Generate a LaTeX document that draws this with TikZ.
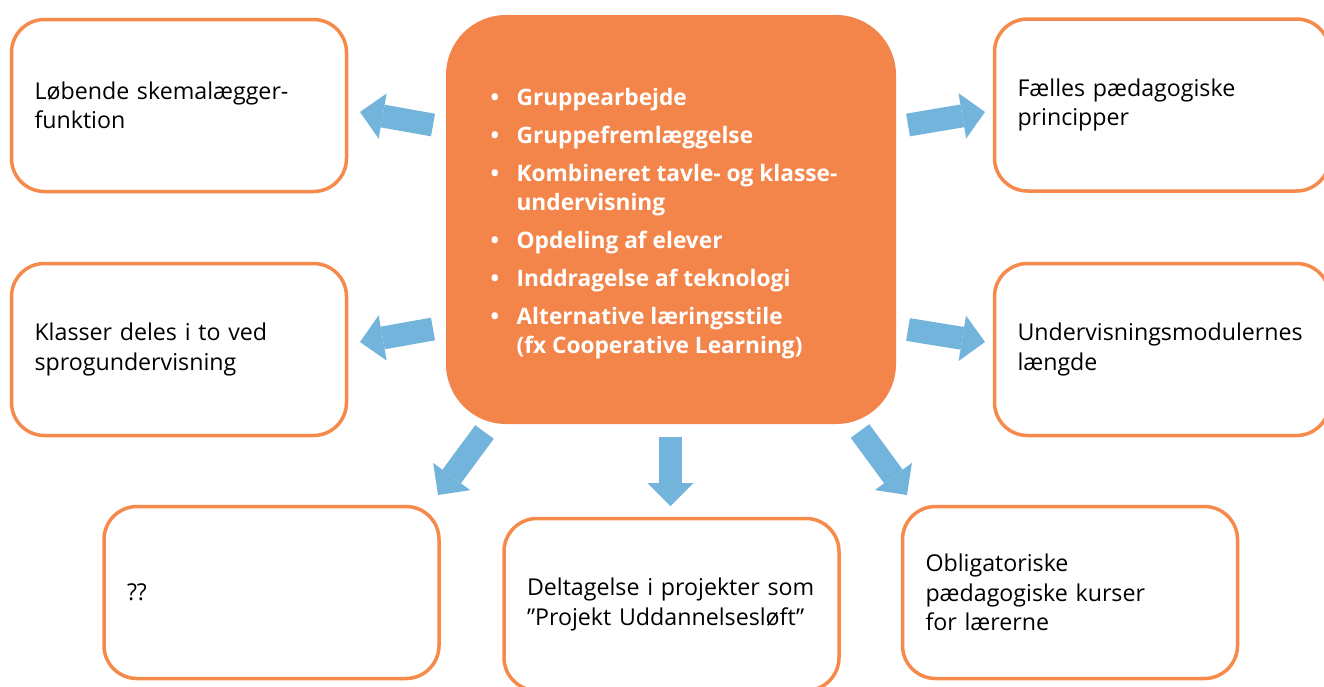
\documentclass[tikz,border=0pt]{standalone}
\usepackage{fontspec}
\setmainfont{Open Sans}
\usetikzlibrary{arrows.meta}
\definecolor{boxorange}{HTML}{F58A4B}
\definecolor{centerorange}{HTML}{F3844A}
\definecolor{arrowblue}{HTML}{72B4DC}
\hyphenpenalty=10000
\exhyphenpenalty=10000
\newcommand{\hubitem}[1]{\makebox[26pt][l]{\textbullet}&#1}
\begin{document}
\begin{tikzpicture}[x=1pt,y=-1pt,
  sidebox/.style={draw=boxorange, line width=3.5pt, rounded corners=33pt,
    minimum width=335pt, minimum height=172pt, text width=289pt, inner xsep=23pt,
    align=left, font=\fontsize{23.2}{29.5}\selectfont, fill=white},
  hubbox/.style={fill=centerorange, rounded corners=60pt, minimum width=450pt,
    minimum height=409pt, text=white, font=\fontsize{22.7}{29}\selectfont\bfseries},
  bluearrow/.style={draw=arrowblue, line width=23pt,
    -{Triangle[width=46pt,length=23pt,line width=0pt,fill=arrowblue]}}
]
\useasboundingbox (0,0) rectangle (1324,686);
\clip (0,0) rectangle (1324,686);

\node[hubbox] (hub) at (671,219.5) {\raisebox{-4pt}[\height][\depth]{\begin{tabular}{@{}l@{}l@{}}
\hubitem{Gruppearbejde}\\[9pt]
\hubitem{Gruppefremlæggelse}\\[9pt]
\hubitem{Kombineret tavle- og klasse-}\\
&undervisning\\[9pt]
\hubitem{Opdeling af elever}\\[9pt]
\hubitem{Inddragelse af teknologi}\\[9pt]
\hubitem{Alternative læringsstile}\\
&(fx Cooperative Learning)
\end{tabular}}\hspace*{14pt}};

\node[sidebox] (tl) at (179,105.5) {Løbende skemalægger-\\funktion};
\node[sidebox] (ml) at (179,349.5) {Klasser deles i to ved\\sprogundervisning};
\node[sidebox] (tr) at (1162,105) {Fælles pædagogiske\\principper};
\node[sidebox] (mr) at (1162,349.5) {Undervisningsmodulernes\\længde};
\node[sidebox] (bl) at (271.5,592.5) {??};
\node[sidebox] (bm) at (671.5,604.5) {Deltagelse i projekter som\\”Projekt Uddannelsesløft”};
\node[sidebox] (br) at (1070,592.5) {Obligatoriske\\pædagogiske kurser\\for lærerne};

\coordinate (a1s) at (433,125); \coordinate (a1e) at (360,112);
\coordinate (a2s) at (433,329); \coordinate (a2e) at (360,342);
\coordinate (a3s) at (908,125); \coordinate (a3e) at (985,112);
\coordinate (a4s) at (908,329.5); \coordinate (a4e) at (985,342);
\coordinate (a5s) at (484.5,432); \coordinate (a5e) at (438,495);
\coordinate (a6s) at (670.5,437); \coordinate (a6e) at (670.5,506);
\coordinate (a7s) at (860,431); \coordinate (a7e) at (907,495);

\draw[bluearrow] (a1s) -- (a1e);
\draw[bluearrow] (a2s) -- (a2e);
\draw[bluearrow] (a3s) -- (a3e);
\draw[bluearrow] (a4s) -- (a4e);
\draw[bluearrow] (a5s) -- (a5e);
\draw[bluearrow] (a6s) -- (a6e);
\draw[bluearrow] (a7s) -- (a7e);
\end{tikzpicture}
\end{document}
